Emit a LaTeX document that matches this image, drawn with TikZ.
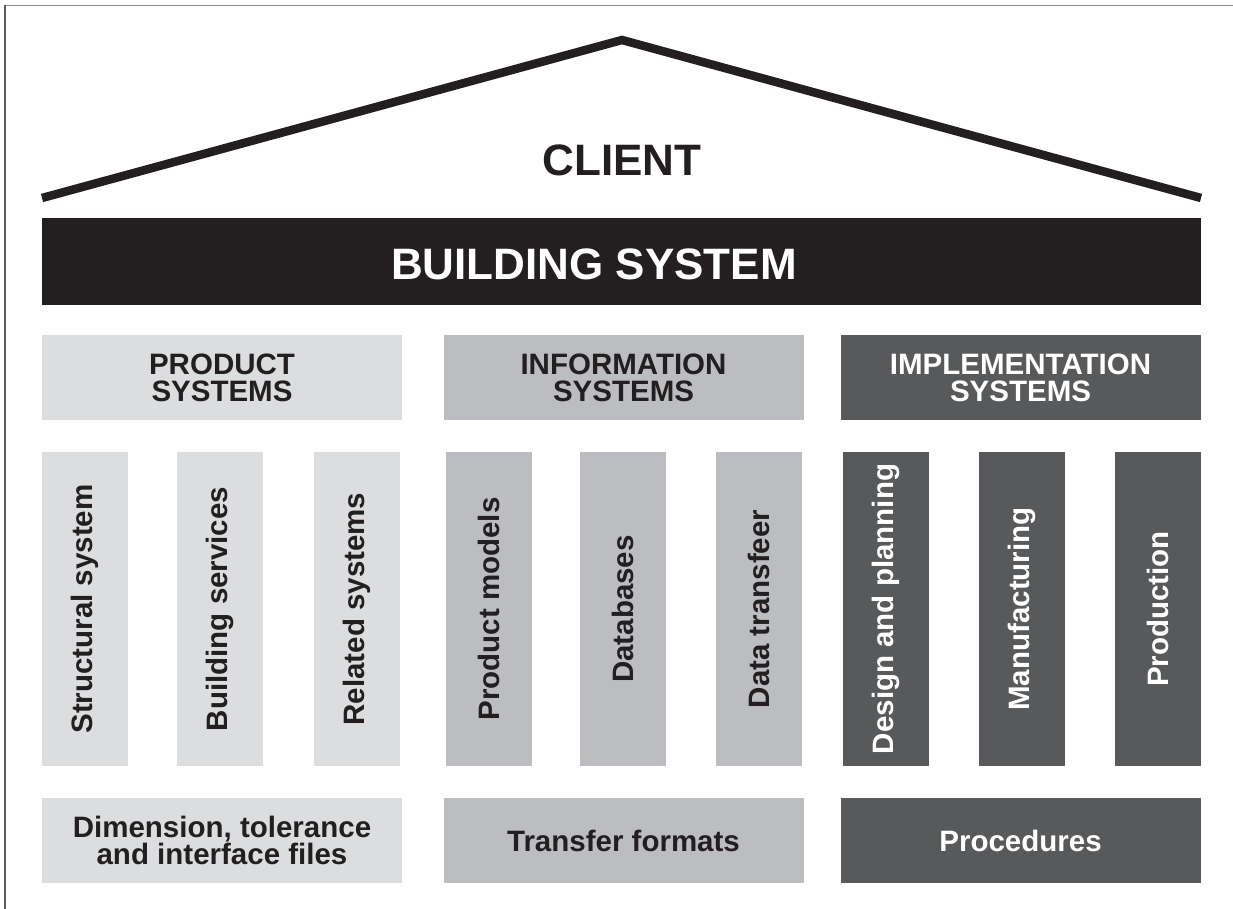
\documentclass[tikz,border=0pt]{standalone}
\usepackage{fontspec}
\setmainfont{Liberation Sans}
\definecolor{inkblack}{HTML}{231F20}
\definecolor{paleshade}{HTML}{DCDDDF}
\definecolor{midshade}{HTML}{BCBDC0}
\definecolor{darkshade}{HTML}{58595B}
\definecolor{frametop}{HTML}{8C8C8C}
\definecolor{frameleft}{HTML}{5A5A5A}
\begin{document}
\begin{tikzpicture}[x=1pt,y=-1pt,
  roofline/.style={draw=inkblack,line width=8.5pt,line join=miter,line cap=butt},
  bigtext/.style={font=\fontsize{44}{48}\selectfont\bfseries},
  panel/.style={rectangle,inner sep=0pt,align=center,
    font=\fontsize{29.5}{27}\selectfont\bfseries},
  headbox/.style={panel,minimum width=360pt,minimum height=85pt},
  footbox/.style={panel,minimum width=360pt,minimum height=85pt},
  pillar/.style={panel,rotate=90,minimum width=314pt,minimum height=86pt},
  pale/.style={fill=paleshade,text=inkblack},
  mid/.style={fill=midshade,text=inkblack},
  dark/.style={fill=darkshade,text=white}]
\useasboundingbox (0,0) rectangle (1233,909);
\fill[white] (0,0) rectangle (1233,909);

% page frame
\draw[frametop,line width=1.8pt] (4.5,5.5) -- (1233,5.5);
\draw[frameleft,line width=1.8pt] (5,5) -- (5,909);

% roof
\coordinate (eaveL) at (42,198);
\coordinate (ridge) at (622,40);
\coordinate (eaveR) at (1201,198);
\draw[roofline] (eaveL) -- (ridge) -- (eaveR);
\node[bigtext,text=inkblack] (client) at (622,160) {CLIENT};

% building system beam
\node[rectangle,inner sep=0pt,fill=inkblack,
  minimum width=1159pt,minimum height=87pt] (building) at (621.5,261.5) {};
\node[bigtext,text=white,inner sep=0pt] (buildinglabel) at (594,264) {BUILDING SYSTEM};

% column headers
\node[headbox,pale] (prodhead) at (222,377.5) {PRODUCT\\SYSTEMS};
\node[headbox,mid]  (infohead) at (623.5,377.5) {INFORMATION\\SYSTEMS};
\node[headbox,dark] (implhead) at (1020.5,377.5) {IMPLEMENTATION\\SYSTEMS};

% pillars
\node[pillar,pale] (structural) at (85,609)  {Structural system};
\node[pillar,pale] (services)   at (220,609) {Building services};
\node[pillar,pale] (related)    at (357,609) {Related systems};
\node[pillar,mid]  (models)     at (489,609) {Product models};
\node[pillar,mid]  (databases)  at (623,609) {Databases};
\node[pillar,mid]  (transfer)   at (759,609) {Data transfeer};
\node[pillar,dark] (design)     at (886,609) {Design and planning};
\node[pillar,dark] (manufact)   at (1022,609) {Manufacturing};
\node[pillar,dark] (production) at (1158,609) {Production};

% foundations
\node[footbox,pale] (dimfiles) at (222,840.5) {Dimension, tolerance\\and interface files};
\node[footbox,mid]  (formats)  at (623.5,840.5) {Transfer formats};
\node[footbox,dark] (procs)    at (1020.5,840.5) {Procedures};
\end{tikzpicture}
\end{document}
